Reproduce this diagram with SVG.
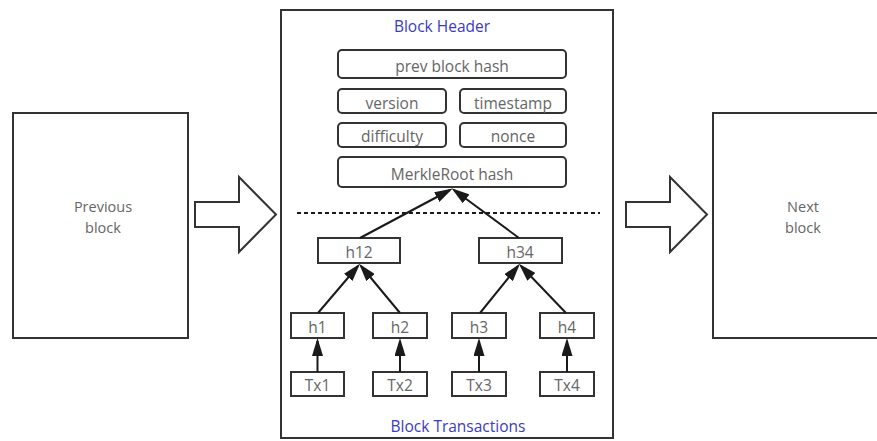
<svg xmlns="http://www.w3.org/2000/svg" width="877" height="441" viewBox="0 0 877 441">
  <defs>
    <marker id="tri" viewBox="0 0 18 11" refX="15" refY="5.5" markerWidth="18" markerHeight="11" orient="auto" markerUnits="userSpaceOnUse">
      <path d="M0,0 L18,5.5 L0,11 Z" fill="#1a1a1a"/>
    </marker>
    <style>
      .box { fill: #fff; stroke: #333; stroke-width: 2; }
      .lbl { font-family: "Open Sans", "Noto Sans", sans-serif; font-size: 15.5px; fill: #666; text-anchor: middle; }
      .side { font-family: "Open Sans", "Noto Sans", sans-serif; font-size: 14.5px; fill: #666; text-anchor: middle; }
      .ttl { font-family: "Open Sans", "Noto Sans", sans-serif; font-size: 15.5px; fill: #3b3bc0; text-anchor: middle; }
      .big { fill: #fff; stroke: #333; stroke-width: 2; stroke-linejoin: miter; }
      .edge { stroke: #1a1a1a; stroke-width: 2; fill: none; marker-end: url(#tri); }
    </style>
  </defs>
  <rect width="877" height="441" fill="#fff"/>

  <g id="previous-block">
    <rect class="big" x="13" y="113" width="175" height="225"/>
    <text class="side" x="103" y="212">Previous</text>
    <text class="side" x="103" y="233">block</text>
  </g>

  <g id="arrow-in">
    <polygon class="big" points="195,202 239,202 239,177 276,214.5 239,252 239,227 195,227"/>
  </g>

  <g id="block">
    <rect class="big" x="281" y="10" width="332" height="428"/>
    <text class="ttl" x="442" y="32">Block Header</text>
    <text class="ttl" x="458" y="432">Block Transactions</text>
    <line x1="297" y1="213" x2="600" y2="213" stroke="#1a1a1a" stroke-width="2" stroke-dasharray="4,3"/>
  </g>

  <g id="prev-hash">
    <rect class="box" x="338" y="50" width="228" height="28" rx="4"/>
    <text class="lbl" x="452" y="72">prev block hash</text>
  </g>
  <g id="version">
    <rect class="box" x="338" y="89" width="108" height="24" rx="4"/>
    <text class="lbl" x="392" y="109">version</text>
  </g>
  <g id="timestamp">
    <rect class="box" x="460" y="89" width="106" height="24" rx="4"/>
    <text class="lbl" x="513" y="109">timestamp</text>
  </g>
  <g id="difficulty">
    <rect class="box" x="338" y="123" width="108" height="24" rx="4"/>
    <text class="lbl" x="392" y="142">difficulty</text>
  </g>
  <g id="nonce">
    <rect class="box" x="460" y="123" width="106" height="24" rx="4"/>
    <text class="lbl" x="513" y="142">nonce</text>
  </g>
  <g id="merkle-root">
    <rect class="box" x="338" y="157" width="228" height="30" rx="4"/>
    <text class="lbl" x="452" y="180">MerkleRoot hash</text>
  </g>

  <g id="h12">
    <rect class="box" x="318" y="238" width="82" height="25"/>
    <text class="lbl" x="359" y="258">h12</text>
  </g>
  <g id="h34">
    <rect class="box" x="479" y="238" width="83" height="25"/>
    <text class="lbl" x="520" y="258">h34</text>
  </g>

  <g id="h1">
    <rect class="box" x="291" y="313" width="53" height="25"/>
    <text class="lbl" x="317.5" y="333">h1</text>
  </g>
  <g id="h2">
    <rect class="box" x="373" y="313" width="54" height="25"/>
    <text class="lbl" x="400" y="333">h2</text>
  </g>
  <g id="h3">
    <rect class="box" x="452" y="313" width="54" height="25"/>
    <text class="lbl" x="479" y="333">h3</text>
  </g>
  <g id="h4">
    <rect class="box" x="540" y="313" width="54" height="25"/>
    <text class="lbl" x="567" y="333">h4</text>
  </g>

  <g id="tx1">
    <rect class="box" x="291" y="372" width="53" height="24"/>
    <text class="lbl" x="317.5" y="391">Tx1</text>
  </g>
  <g id="tx2">
    <rect class="box" x="373" y="372" width="54" height="24"/>
    <text class="lbl" x="400" y="391">Tx2</text>
  </g>
  <g id="tx3">
    <rect class="box" x="452" y="372" width="54" height="24"/>
    <text class="lbl" x="479" y="391">Tx3</text>
  </g>
  <g id="tx4">
    <rect class="box" x="540" y="372" width="54" height="24"/>
    <text class="lbl" x="567" y="391">Tx4</text>
  </g>

  <g id="arrow-out">
    <polygon class="big" points="626,202 670,202 670,177 707,214.5 670,252 670,227 626,227"/>
  </g>

  <g id="next-block">
    <rect class="big" x="713" y="113" width="180" height="225"/>
    <text class="side" x="803" y="212">Next</text>
    <text class="side" x="803" y="233">block</text>
  </g>

  <g id="connectors">
    <line class="edge" x1="360" y1="238" x2="450" y2="190"/>
    <line class="edge" x1="519" y1="238" x2="454" y2="190"/>
    <line class="edge" x1="318" y1="313" x2="358" y2="266"/>
    <line class="edge" x1="400" y1="313" x2="361" y2="266"/>
    <line class="edge" x1="480" y1="313" x2="518" y2="266"/>
    <line class="edge" x1="566" y1="313" x2="521" y2="266"/>
    <line class="edge" x1="317.5" y1="372" x2="317.5" y2="341"/>
    <line class="edge" x1="400" y1="372" x2="400" y2="341"/>
    <line class="edge" x1="479" y1="372" x2="479" y2="341"/>
    <line class="edge" x1="567" y1="372" x2="567" y2="341"/>
  </g>
</svg>
